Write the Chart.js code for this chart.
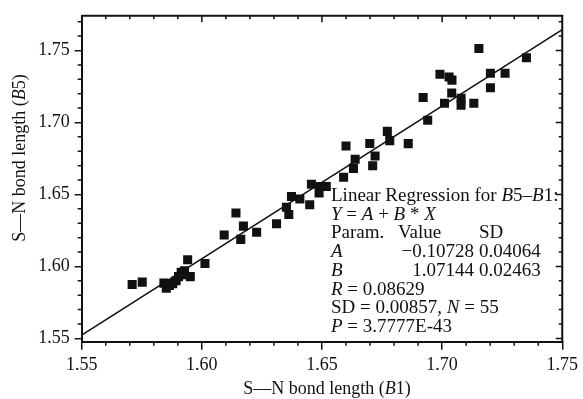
<!DOCTYPE html>
<html><head><meta charset="utf-8">
<script src="https://cdn.jsdelivr.net/npm/chart.js@4/dist/chart.umd.min.js"></script>
<style>html,body{margin:0;padding:0;background:#fff;}#wrap{width:583px;height:399px;}</style>
</head><body><div id="wrap"><canvas id="c" width="583" height="399"></canvas></div>
<script>
// S—N bond length (B1) values
const b1 = [1.5710,1.5752,1.5842,1.5852,1.5865,1.5879,1.5893,1.5903,1.5914,1.5928,
            1.5941,1.5952,1.6013,1.6093,1.6142,1.6162,1.6173,1.6228,1.6311,1.6352,
            1.6362,1.6373,1.6408,1.6449,1.6456,1.6488,1.6493,1.6518,1.6590,1.6600,
            1.6631,1.6638,1.6699,1.6711,1.6721,1.6772,1.6782,1.6859,1.6921,1.6940,
            1.6991,1.7010,1.7029,1.7041,1.7040,1.7079,1.7079,1.7132,1.7153,1.7201,
            1.7201,1.7262,1.7351,1.5857,1.5919];
// S—N bond length (B5) values
const b5 = [1.5874,1.5891,1.5884,1.5848,1.5867,1.5879,1.5901,1.5929,1.5960,1.5970,
            1.6046,1.5929,1.6020,1.6218,1.6371,1.6188,1.6280,1.6238,1.6297,1.6411,
            1.6360,1.6486,1.6469,1.6429,1.6571,1.6510,1.6555,1.6555,1.6620,1.6836,
            1.6681,1.6744,1.6854,1.6700,1.6767,1.6938,1.6874,1.6853,1.7174,1.7016,
            1.7335,1.7133,1.7316,1.7294,1.7205,1.7168,1.7119,1.7133,1.7514,1.7342,
            1.7241,1.7342,1.7450,1.5881,1.5943];
// regression line end points
const regX = [1.55, 1.75];
const regY = [1.5523, 1.7645];
const xRange = [1.55, 1.75];
const yRange = [1.5477, 1.7741];
const xTicks = [1.55, 1.60, 1.65, 1.70, 1.75];
const yTicks = [1.55, 1.60, 1.65, 1.70, 1.75];
const xMinor = [1.56,1.57,1.58,1.59,1.61,1.62,1.63,1.64,1.66,1.67,1.68,1.69,1.71,1.72,1.73,1.74];
const yMinor = [1.56,1.57,1.58,1.59,1.61,1.62,1.63,1.64,1.66,1.67,1.68,1.69,1.71,1.72,1.73,1.74,1.76,1.77];
const xTitle = [["S—N bond length (",false],["B",true],["1)",false]];
const yTitle = [["S—N bond length (",false],["B",true],["5)",false]];
const noteLines = [
  [[0,[["Linear Regression for ",false],["B",true],["5–",false],["B",true],["1:",false]]]],
  [[0,[["Y",true],[" = ",false],["A",true],[" + ",false],["B",true],[" * ",false],["X",true]]]],
  [[0,[["Param.",false]]],[1,[["Value",false]]],[3,[["SD",false]]]],
  [[0,[["A",true]]],[2,[["−0.10728",false]]],[3,[["0.04064",false]]]],
  [[0,[["B",true]]],[2,[["1.07144",false]]],[3,[["0.02463",false]]]],
  [[0,[["R",true],[" = 0.08629",false]]]],
  [[0,[["SD = 0.00857, ",false],["N",true],[" = 55",false]]]],
  [[0,[["P",true],[" = 3.7777E-43",false]]]]
];

const FAM = '"Liberation Serif", "DejaVu Serif", serif';
const INK = '#111';

function fontOf(size, it){ return (it ? 'italic ' : '') + size + 'px ' + FAM; }
function runsWidth(ctx, runs, size){
  let w = 0;
  for (const [t,it] of runs){ ctx.font = fontOf(size,it); w += ctx.measureText(t).width; }
  return w;
}
function drawRuns(ctx, x, y, runs, size){
  for (const [t,it] of runs){ ctx.font = fontOf(size,it); ctx.fillText(t, x, y); x += ctx.measureText(t).width; }
}

const decor = {
  id: 'decor',
  afterDraw(chart){
    const ctx = chart.ctx, a = chart.chartArea, xs = chart.scales.x, ys = chart.scales.y;
    ctx.save();
    ctx.strokeStyle = INK; ctx.fillStyle = INK; ctx.lineWidth = 2;
    ctx.beginPath();
    ctx.moveTo(a.left, a.top); ctx.lineTo(a.right, a.top); ctx.lineTo(a.right, a.bottom);
    ctx.stroke();
    ctx.lineWidth = 1.5;
    ctx.beginPath();
    for (const v of xMinor){ const p = xs.getPixelForValue(v);
      ctx.moveTo(p, a.bottom); ctx.lineTo(p, a.bottom + 4);
      ctx.moveTo(p, a.top); ctx.lineTo(p, a.top + 3.5); }
    for (const v of xTicks){ const p = xs.getPixelForValue(v);
      ctx.moveTo(p, a.top); ctx.lineTo(p, a.top + 6.5); }
    for (const v of yMinor){ const p = ys.getPixelForValue(v);
      ctx.moveTo(a.left, p); ctx.lineTo(a.left - 4, p);
      ctx.moveTo(a.right, p); ctx.lineTo(a.right - 3.5, p); }
    for (const v of yTicks){ const p = ys.getPixelForValue(v);
      ctx.moveTo(a.right, p); ctx.lineTo(a.right - 6.5, p); }
    ctx.stroke();
    ctx.textBaseline = 'alphabetic'; ctx.textAlign = 'left';
    const ts = 18;
    let w = runsWidth(ctx, xTitle, ts);
    drawRuns(ctx, 327 - w/2, 394, xTitle, ts);
    w = runsWidth(ctx, yTitle, ts);
    ctx.save(); ctx.translate(25, 158); ctx.rotate(-Math.PI/2);
    drawRuns(ctx, -w/2, 0, yTitle, ts);
    ctx.restore();
    const ns = 19, x0 = 331, cols = [x0, 398, 474, 479];
    const base0 = 201, step = 18.7;
    noteLines.forEach((line, i) => {
      const y = base0 + i*step;
      for (const [c, runs] of line){
        if (c === 2){ const ww = runsWidth(ctx, runs, ns); drawRuns(ctx, cols[2] - ww, y, runs, ns); }
        else drawRuns(ctx, cols[c], y, runs, ns);
      }
    });
    ctx.restore();
  }
};

const pts = b1.map((x, i) => ({x: x, y: b5[i]}));
const line = regX.map((x, i) => ({x: x, y: regY[i]}));

new Chart(document.getElementById('c'), {
  type: 'scatter',
  data: { datasets: [
    { data: pts, pointStyle: 'rect', pointRadius: 6.4, pointHoverRadius: 6.4,
      backgroundColor: INK, borderWidth: 0, order: 2 },
    { type: 'line', data: line, borderColor: INK, borderWidth: 1.6, pointRadius: 0,
      fill: false, tension: 0, order: 1 }
  ]},
  options: {
    responsive: false, animation: false, devicePixelRatio: 1,
    layout: { padding: { left: 0, right: 18, top: 12.7, bottom: 0 } },
    plugins: { legend: { display: false }, tooltip: { enabled: false }, title: { display: false } },
    scales: {
      x: {
        type: 'linear', min: xRange[0], max: xRange[1],
        afterBuildTicks: s => { s.ticks = xTicks.map(v => ({value: v})); },
        afterFit: s => { s.height = 399 - 341.7; },
        grid: { display: true, drawOnChartArea: false, drawTicks: true, tickLength: 8, color: INK, lineWidth: 1.5 },
        border: { display: true, color: INK, width: 2 },
        ticks: { color: INK, padding: 5, maxRotation: 0, autoSkip: false,
          font: { family: FAM, size: 18 }, callback: v => v.toFixed(2) }
      },
      y: {
        type: 'linear', min: yRange[0], max: yRange[1],
        afterBuildTicks: s => { s.ticks = yTicks.map(v => ({value: v})); },
        afterFit: s => { s.width = 81.7; },
        grid: { display: true, drawOnChartArea: false, drawTicks: true, tickLength: 7, color: INK, lineWidth: 1.5 },
        border: { display: true, color: INK, width: 2 },
        ticks: { color: INK, padding: 5, autoSkip: false,
          font: { family: FAM, size: 18 }, callback: v => v.toFixed(2) }
      }
    }
  },
  plugins: [decor]
});
</script></body></html>
